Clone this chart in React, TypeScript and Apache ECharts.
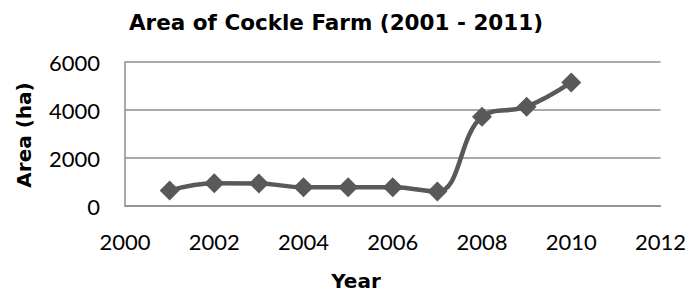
import React, { useEffect, useRef } from "react";
import * as echarts from "echarts";

const years = [2001, 2002, 2003, 2004, 2005, 2006, 2007, 2008, 2009, 2010];
const areas = [650, 950, 940, 780, 780, 780, 600, 3720, 4140, 5150];
const titleText = "Area of Cockle Farm (2001 - 2011)";
const xName = "Year";
const yName = "Area (ha)";

export default function App() {
  const ref = useRef<HTMLDivElement>(null);
  useEffect(() => {
    if (!ref.current) return;
    const chart = echarts.init(ref.current, undefined, { renderer: "svg" });
    const gridColor = "#8c8c8c";
    const tickFont = "Lato, 'Open Sans', sans-serif";
    chart.setOption({
      animation: false,
      backgroundColor: "#ffffff",
      grid: { left: 125, right: 27, top: 62, bottom: 88 },
      xAxis: {
        type: "value",
        min: 2000,
        max: 2012,
        interval: 2,
        axisLine: { show: true, onZero: false, lineStyle: { color: gridColor, width: 1.5 } },
        axisTick: { show: false },
        splitLine: { show: false },
        axisLabel: { color: "#000", fontFamily: tickFont, fontSize: 22, margin: 24, formatter: (v: number) => String(v) },
      },
      yAxis: {
        type: "value",
        min: 0,
        max: 6000,
        interval: 2000,
        axisLine: { show: true, lineStyle: { color: gridColor, width: 1.5 } },
        axisTick: { show: false },
        splitLine: { show: true, lineStyle: { color: gridColor, width: 1.5 } },
        axisLabel: { color: "#000", fontFamily: tickFont, fontSize: 22, margin: 25, formatter: (v: number) => String(v) },
      },
      series: [
        {
          type: "line",
          data: years.map((y, i) => [y, areas[i]]),
          smooth: 0.4,
          symbol: "diamond",
          symbolSize: 20,
          lineStyle: { color: "#595959", width: 4.5 },
          itemStyle: { color: "#595959" },
        },
      ],
      graphic: [
        {
          type: "text",
          x: 336,
          y: 22,
          style: {
            text: titleText,
            fill: "#000",
            font: "bold 21.5px 'DejaVu Sans'",
            textAlign: "center",
            textVerticalAlign: "middle",
          },
        },
        {
          type: "text",
          x: 356,
          y: 281,
          style: {
            text: xName,
            fill: "#000",
            font: "bold 20px 'DejaVu Sans'",
            textAlign: "center",
            textVerticalAlign: "middle",
          },
        },
        {
          type: "text",
          x: 24,
          y: 135,
          rotation: Math.PI / 2,
          style: {
            text: yName,
            fill: "#000",
            font: "bold 20px 'DejaVu Sans'",
            textAlign: "center",
            textVerticalAlign: "middle",
          },
        },
      ],
    });
    return () => chart.dispose();
  }, []);
  return <div ref={ref} style={{ width: 689, height: 294, position: "absolute", left: 0, top: 0 }} />;
}
